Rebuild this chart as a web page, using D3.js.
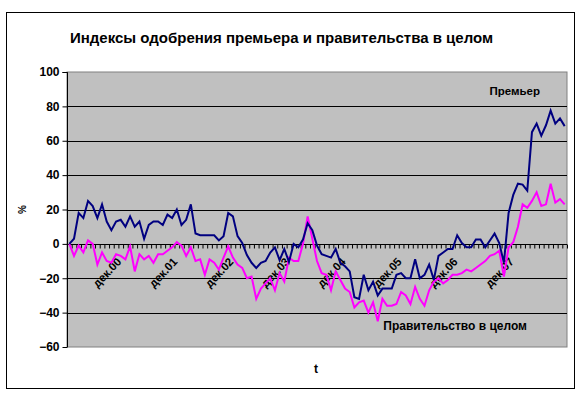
<!DOCTYPE html>
<html>
<head>
<meta charset="utf-8">
<script src="https://cdn.jsdelivr.net/npm/d3@7"></script>
<style>
  body { margin: 0; background: #fff; }
  text { font-family: "Liberation Sans", Arial, sans-serif; }
</style>
</head>
<body>
<div id="chart"></div>
<script>
// months Feb 2000 .. Dec 2008, one point per month
const months = d3.timeMonth.range(new Date(2000, 1, 1), new Date(2009, 0, 1));
const tickLabels = ["дек.00", "дек.01", "дек.02", "дек.03", "дек.04", "дек.05", "дек.06", "дек.07"];
const yTicks = [-60, -40, -20, 0, 20, 40, 60, 80, 100];

// Премьер
const premier = [
  0, 3, 18, 15, 25, 22, 15, 23, 13, 8, 13, 14, 10, 16, 10, 13, 3, 11, 13, 13,
  11, 17, 15, 20, 11, 14, 23, 6, 5, 5, 5, 5, 2, 4.5, 18, 16, 4.5, 0.5, -6.5, -11,
  -14, -11, -10, -5, -2, -9.5, -3, -10.5, 0, -2, 2.5, 12, 8, -1, -6, -7, -8, -3, -11, -13,
  -16, -31, -32, -18, -27, -22, -30, -26, -26, -26, -18, -17, -20, -20, -9, -20, -18, -12, -21, -7,
  -5, -3, -3, 5, 0.5, -2, -2, 2.5, 2.5, -2, 2, 6, 0.5, -11, 18, 28.5, 35, 34.5, 31, 65,
  70, 63, 69, 77.5, 70, 73, 68.5
];

// Правительство в целом
const government = [
  0, -7, -1, -5, 2, 0, -12, -5, -10, -11, -6, -7, -9, -1.5, -16, -6, -9, -7, -11, -6,
  -6, -4, -2, 1, -1, -7, -2, -10, -9, -18, -9, -11, -15, -8, -1.5, -8, -12, -14, -20, -19,
  -32, -26, -23, -20, -27, -17, -22, -8, -10, -10, 0, 16, 3, -10, -17, -18, -27, -16, -21, -26,
  -28, -37, -34, -33, -40, -34, -45, -32, -36, -36, -35, -28, -30, -35, -25, -32, -36, -27, -22, -20,
  -23, -21, -18, -18, -17, -15, -16, -14, -12, -10, -7, -6, -4, -19, -2, 1, 10, 23, 21, 25,
  30, 22, 23, 35, 24, 26, 23
];

const W = 588, H = 397;
const margin = { top: 72, right: 21, bottom: 50, left: 67 };
const width = W - margin.left - margin.right;
const height = H - margin.top - margin.bottom;

const monthLabel = d => d.getMonth() === 11 ? "дек." + d3.timeFormat("%y")(d) : "";

const svg = d3.select("#chart").append("svg")
  .attr("width", W)
  .attr("height", H);

// outer frame
svg.append("rect")
  .attr("x", 6.5).attr("y", 12.5)
  .attr("width", 568).attr("height", 376)
  .attr("fill", "#fff")
  .attr("stroke", "#000");

svg.append("text")
  .attr("x", 70)
  .attr("y", 43)
  .attr("font-size", 15)
  .attr("font-weight", "bold")
  .text("Индексы одобрения премьера и правительства в целом");

const g = svg.append("g").attr("transform", `translate(${margin.left},${margin.top})`);

const x = d3.scaleLinear().domain([0, months.length]).range([0, width]);
const y = d3.scaleLinear().domain([-60, 100]).range([height, 0]);

// plot area
g.append("rect")
  .attr("width", width).attr("height", height)
  .attr("fill", "#c0c0c0")
  .attr("stroke", "#808080");

// gridlines
g.append("g")
  .selectAll("line")
  .data(yTicks.filter(d => d !== 100 && d !== -60 && d !== 0))
  .join("line")
  .attr("x1", 0).attr("x2", width)
  .attr("y1", d => Math.round(y(d)) + 0.5)
  .attr("y2", d => Math.round(y(d)) + 0.5)
  .attr("stroke", "#000");

// y axis
g.append("g")
  .attr("transform", "translate(0.5,0)")
  .call(d3.axisLeft(y).tickValues(yTicks).tickSize(5).tickPadding(3))
  .call(a => a.selectAll("text")
    .attr("font-size", 12)
    .attr("font-weight", "bold")
    .attr("fill", "#000")
    .attr("font-family", "Liberation Sans, Arial, sans-serif"))
  .call(a => a.select(".domain").attr("d", `M-5,0.5H0V${height}`));

// x axis at zero, ticks between months
const y0 = Math.round(y(0)) + 0.5;
g.append("g")
  .attr("transform", `translate(0,${y0})`)
  .call(d3.axisBottom(x).tickValues(d3.range(months.length + 1)).tickSize(4).tickFormat(""))
  .call(a => a.select(".domain").attr("d", `M0,0H${width}`));

// month labels (December only)
g.append("g")
  .selectAll("text")
  .data(months.map((d, i) => ({ i, label: monthLabel(d) })).filter(d => tickLabels.includes(d.label)))
  .join("text")
  .attr("transform", d => `translate(${x(d.i + 0.5) + 3},${y0 + 15}) rotate(-47)`)
  .attr("text-anchor", "end")
  .attr("dy", "0.35em")
  .attr("font-size", 11.5)
  .attr("font-weight", "bold")
  .text(d => d.label);

const line = d3.line()
  .x((d, i) => x(i + 0.5))
  .y(d => y(d));

g.append("path")
  .datum(government)
  .attr("fill", "none")
  .attr("stroke", "#ff00ff")
  .attr("stroke-width", 2)
  .attr("d", line);

g.append("path")
  .datum(premier)
  .attr("fill", "none")
  .attr("stroke", "#000080")
  .attr("stroke-width", 2)
  .attr("d", line);

// series labels
g.append("text")
  .attr("x", width - 27)
  .attr("y", y(86.5))
  .attr("text-anchor", "end")
  .attr("font-size", 11.5)
  .attr("font-weight", "bold")
  .text("Премьер");

g.append("text")
  .attr("x", width - 40)
  .attr("y", y(-50))
  .attr("text-anchor", "end")
  .attr("font-size", 12)
  .attr("font-weight", "bold")
  .text("Правительство в целом");

// axis titles
svg.append("text")
  .attr("transform", `translate(26,${margin.top + y(20)}) rotate(-90)`)
  .attr("text-anchor", "middle")
  .attr("font-size", 10)
  .attr("font-weight", "bold")
  .text("%");

svg.append("text")
  .attr("x", 316)
  .attr("y", 373)
  .attr("text-anchor", "middle")
  .attr("font-size", 12)
  .attr("font-weight", "bold")
  .text("t");
</script>
</body>
</html>
